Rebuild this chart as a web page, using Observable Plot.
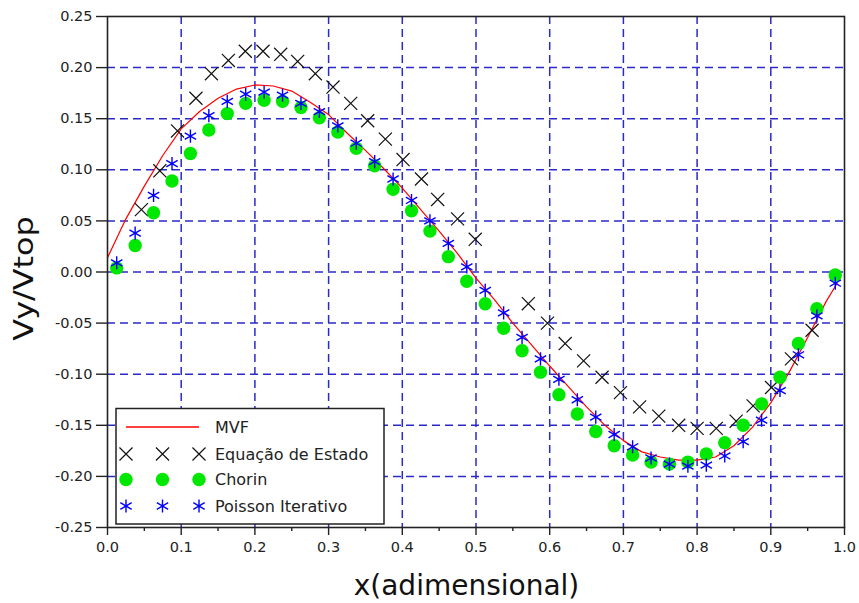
<!DOCTYPE html>
<html>
<head>
<meta charset="utf-8">
<script src="https://cdn.jsdelivr.net/npm/d3@7"></script>
<script src="https://cdn.jsdelivr.net/npm/@observablehq/plot@0.6"></script>
<style>
  html, body { margin: 0; padding: 0; background: #fff; }
  #chart { position: relative; width: 859px; height: 603px; }
</style>
</head>
<body>
<div id="chart"></div>
<script>
// Vertical velocity profile Vy/Vtop along the horizontal centre line.

// Legend labels, in drawing order
const seriesNames = ["MVF", "Equação de Estado", "Chorin", "Poisson Iterativo"];

// MVF reference solution (red line)
const mvfX = [0.000, 0.025, 0.050, 0.075, 0.100, 0.125, 0.150, 0.175, 0.200, 0.225,
              0.250, 0.275, 0.300, 0.325, 0.350, 0.375, 0.400, 0.425, 0.450, 0.475,
              0.500, 0.525, 0.550, 0.575, 0.600, 0.625, 0.650, 0.675, 0.700, 0.725,
              0.750, 0.775, 0.800, 0.825, 0.850, 0.875, 0.900, 0.925, 0.950, 0.975, 0.990];
const mvfV = [0.014, 0.052, 0.084, 0.114, 0.140, 0.157, 0.170, 0.179, 0.183, 0.182,
              0.177, 0.166, 0.154, 0.136, 0.119, 0.101, 0.082, 0.061, 0.040, 0.018,
              -0.006, -0.027, -0.050, -0.071, -0.092, -0.112, -0.132, -0.150, -0.165, -0.176,
              -0.181, -0.184, -0.184, -0.181, -0.170, -0.152, -0.128, -0.098, -0.064, -0.029, -0.011];

// Equação de Estado (black crosses)
const estadoX = [0.046, 0.071, 0.095, 0.120, 0.141, 0.164, 0.187, 0.211, 0.235, 0.258,
                 0.282, 0.306, 0.330, 0.353, 0.377, 0.401, 0.426, 0.448, 0.475, 0.499,
                 0.571, 0.597, 0.621, 0.646, 0.671, 0.696, 0.722, 0.748, 0.775, 0.800,
                 0.826, 0.853, 0.876, 0.901, 0.928, 0.956];
const estadoV = [0.061, 0.099, 0.138, 0.170, 0.194, 0.207, 0.216, 0.216, 0.213, 0.206,
                 0.194, 0.181, 0.165, 0.148, 0.130, 0.110, 0.091, 0.071, 0.052, 0.032,
                 -0.031, -0.050, -0.070, -0.087, -0.103, -0.118, -0.132, -0.141, -0.150, -0.153,
                 -0.153, -0.146, -0.131, -0.113, -0.085, -0.057];

// Chorin and Poisson Iterativo share the cell-centre grid
const cellX = [0.0125, 0.0375, 0.0625, 0.0875, 0.1125, 0.1375, 0.1625, 0.1875, 0.2125, 0.2375,
               0.2625, 0.2875, 0.3125, 0.3375, 0.3625, 0.3875, 0.4125, 0.4375, 0.4625, 0.4875,
               0.5125, 0.5375, 0.5625, 0.5875, 0.6125, 0.6375, 0.6625, 0.6875, 0.7125, 0.7375,
               0.7625, 0.7875, 0.8125, 0.8375, 0.8625, 0.8875, 0.9125, 0.9375, 0.9625, 0.9875];
const chorinV = [0.004, 0.026, 0.058, 0.089, 0.116, 0.139, 0.155, 0.165, 0.168, 0.167,
                 0.161, 0.151, 0.137, 0.121, 0.104, 0.081, 0.060, 0.040, 0.015, -0.009,
                 -0.031, -0.055, -0.077, -0.098, -0.120, -0.139, -0.156, -0.170, -0.179, -0.186,
                 -0.188, -0.186, -0.178, -0.167, -0.150, -0.129, -0.103, -0.070, -0.036, -0.003];
const poissonV = [0.009, 0.038, 0.075, 0.106, 0.133, 0.153, 0.167, 0.174, 0.176, 0.173,
                  0.165, 0.157, 0.143, 0.126, 0.108, 0.091, 0.070, 0.050, 0.028, 0.005,
                  -0.018, -0.040, -0.064, -0.085, -0.105, -0.125, -0.142, -0.159, -0.171, -0.182,
                  -0.188, -0.190, -0.189, -0.180, -0.166, -0.145, -0.116, -0.081, -0.043, -0.011];

// Axis ticks
const xTicks = [0.0, 0.1, 0.2, 0.3, 0.4, 0.5, 0.6, 0.7, 0.8, 0.9, 1.0];
const xMinorTicks = [0.05, 0.15, 0.25, 0.35, 0.45, 0.55, 0.65, 0.75, 0.85, 0.95];
const yTicks = [-0.25, -0.20, -0.15, -0.10, -0.05, 0.00, 0.05, 0.10, 0.15, 0.20, 0.25];
const xGrid = xTicks.slice(1, -1);
const yGrid = yTicks.slice(1, -1);

const mvf = mvfX.map((x, i) => ({x, v: mvfV[i]}));
const estado = estadoX.map((x, i) => ({x, v: estadoV[i]}));
const chorin = cellX.map((x, i) => ({x, v: chorinV[i]}));
const poisson = cellX.map((x, i) => ({x, v: poissonV[i]}));

const colors = {mvf: "#ff0000", estado: "#111111", chorin: "#00e800", poisson: "#0000ff"};
const gridStyle = {stroke: "#2a2ac8", strokeWidth: 1.5, strokeDasharray: "8,5"};
const rCross = 6, rDot = 6.7, rStar = 6.2;

const chart = Plot.plot({
  width: 859,
  height: 603,
  marginLeft: 107,
  marginRight: 15,
  marginTop: 16,
  marginBottom: 76,
  style: {fontFamily: "'DejaVu Sans', sans-serif", fontSize: "14.5px", color: "#222", background: "#fff", overflow: "visible"},
  x: {domain: [0, 1]},
  y: {domain: [-0.25, 0.25]},
  marks: [
    Plot.ruleX(xGrid, gridStyle),
    Plot.ruleY(yGrid, gridStyle),
    Plot.line(mvf, {x: "x", y: "v", stroke: colors.mvf, strokeWidth: 1.2}),
    Plot.dot(estado, {x: "x", y: "v", symbol: "times", r: rCross, stroke: colors.estado, strokeWidth: 1.2}),
    Plot.dot(chorin, {x: "x", y: "v", r: rDot, fill: colors.chorin, stroke: "none"}),
    Plot.dot(poisson, {x: "x", y: "v", symbol: "asterisk", r: rStar, stroke: colors.poisson, strokeWidth: 1.4}),
    Plot.frame({stroke: "#222", strokeWidth: 1.6}),
    Plot.axisY(yTicks, {tickSize: 11, tickPadding: 4, tickFormat: d => d.toFixed(2), label: null, strokeWidth: 1.4}),
    Plot.axisX(xTicks, {tickSize: 8, tickPadding: 6, tickFormat: d => d.toFixed(1), label: null, strokeWidth: 1.4}),
    Plot.axisX(xMinorTicks, {tickSize: 4, tickFormat: () => "", label: null, strokeWidth: 1.4})
  ]
});

const svg = d3.select(chart);
const sx = chart.scale("x"), sy = chart.scale("y");
const x0 = sx.apply(0), x1 = sx.apply(1), yTop = sy.apply(0.25), yBot = sy.apply(-0.25);

// Axis titles
svg.append("text")
  .attr("x", (x0 + x1) / 2 - 9)
  .attr("y", 595)
  .attr("text-anchor", "middle")
  .attr("font-size", 28)
  .attr("fill", "#111")
  .text("x(adimensional)");

svg.append("text")
  .attr("transform", `translate(33,${(yTop + yBot) / 2 + 7}) rotate(-90) scale(1.18,1)`)
  .attr("text-anchor", "middle")
  .attr("font-size", 27)
  .attr("fill", "#111")
  .text("Vy/Vtop");

// Legend box in the lower-left corner of the frame
const lgLeft = x0 + 9, lgBottom = yBot - 3, lgW = 268, lgH = 115.5;
const lg = svg.append("g").attr("font-size", 16).attr("fill", "#222").attr("text-anchor", "start");
lg.append("rect")
  .attr("x", lgLeft).attr("y", lgBottom - lgH)
  .attr("width", lgW).attr("height", lgH)
  .attr("fill", "#fff").attr("stroke", "#222").attr("stroke-width", 1.5);

const rowY = [18.5, 45.5, 71, 97.5].map(d => lgBottom - lgH + d);
const symX = [10, 46.5, 83].map(d => lgLeft + d);
const textX = lgLeft + 99;

lg.append("line")
  .attr("x1", symX[0]).attr("x2", symX[2])
  .attr("y1", rowY[0]).attr("y2", rowY[0])
  .attr("stroke", colors.mvf).attr("stroke-width", 1.4);

const sym = (type, r) => d3.symbol(type, Math.PI * r * r)();
symX.forEach(cx => {
  lg.append("path").attr("d", sym(d3.symbolTimes, rCross))
    .attr("transform", `translate(${cx},${rowY[1]})`)
    .attr("fill", "none").attr("stroke", colors.estado).attr("stroke-width", 1.2);
  lg.append("circle").attr("cx", cx).attr("cy", rowY[2]).attr("r", rDot)
    .attr("fill", colors.chorin);
  lg.append("path").attr("d", sym(d3.symbolAsterisk, rStar))
    .attr("transform", `translate(${cx},${rowY[3]})`)
    .attr("fill", "none").attr("stroke", colors.poisson).attr("stroke-width", 1.4);
});

seriesNames.forEach((name, i) => {
  lg.append("text").attr("x", textX).attr("y", rowY[i]).attr("dy", "0.35em")
    .attr("text-anchor", "start").text(name);
});

document.getElementById("chart").appendChild(chart);
</script>
</body>
</html>
